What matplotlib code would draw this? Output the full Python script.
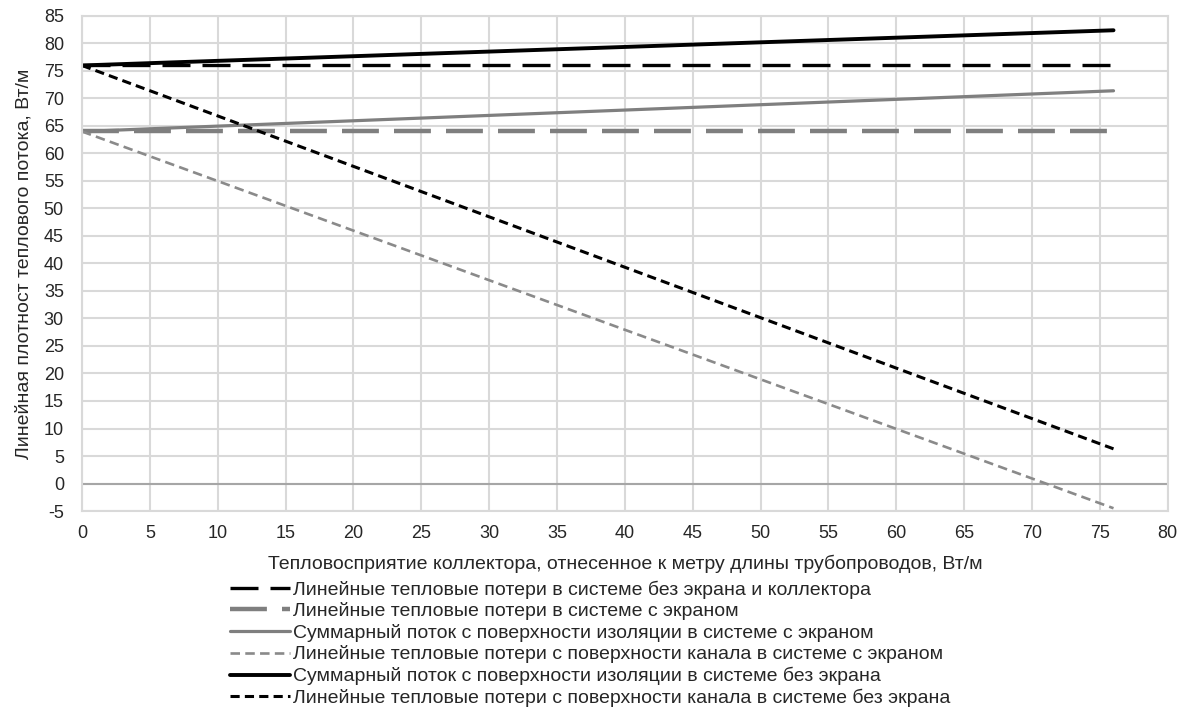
import matplotlib
matplotlib.use("Agg")
import matplotlib.pyplot as plt
import matplotlib.ticker as ticker

plt.rcParams["font.family"] = ["Liberation Sans", "DejaVu Sans"]
plt.rcParams["axes.unicode_minus"] = False

X = [0, 76]
LOSS_NO_SCREEN = [76, 76]
LOSS_SCREEN = [64, 64]
SUM_SCREEN = [64, 71.4]
CHANNEL_SCREEN = [64, -4.5]
SUM_NO_SCREEN = [76, 82.4]
CHANNEL_NO_SCREEN = [76, 6.3]

LABELS = [
    "Линейные тепловые потери в системе без экрана и коллектора",
    "Линейные тепловые потери в системе с экраном",
    "Суммарный поток с поверхности изоляции в системе с экраном",
    "Линейные тепловые потери с поверхности канала в системе с экраном",
    "Суммарный поток с поверхности изоляции в системе без экрана",
    "Линейные тепловые потери с поверхности канала в системе без экрана",
]

GRID = "#d9d9d9"
GRAY = "#7f7f7f"
TEXT = "#262626"

fig = plt.figure(figsize=(11.88, 7.13), dpi=100)
ax = fig.add_axes([0.069, 0.2833, 0.914, 0.6943])

# (values, colour, width, style)
series = [
    (LOSS_NO_SCREEN, "black", 2.4, (0, (8.4, 3.6))),
    (LOSS_SCREEN, GRAY, 3.2, (0, (8.3, 3.4))),
    (SUM_SCREEN, GRAY, 2.3, "-"),
    (CHANNEL_SCREEN, "#8a8a8a", 1.9, (0, (3.6, 2.0))),
    (SUM_NO_SCREEN, "black", 2.8, "-"),
    (CHANNEL_NO_SCREEN, "black", 2.2, (0, (3.0, 1.7))),
]
for (ys, color, lw, ls), label in zip(series, LABELS):
    ax.plot(X, ys, color=color, linewidth=lw, linestyle=ls, label=label,
            solid_capstyle="round")

ax.set_xlim(0, 80)
ax.set_ylim(-5, 85)
ax.xaxis.set_major_locator(ticker.MultipleLocator(5))
ax.yaxis.set_major_locator(ticker.MultipleLocator(5))
ax.grid(True, color=GRID, linewidth=1.5)
ax.axhline(0, color="#a6a6a6", linewidth=1.5, zorder=1)
ax.set_axisbelow(True)
for sp in ax.spines.values():
    sp.set_color(GRID)
    sp.set_linewidth(1.5)
ax.tick_params(length=0, labelsize=13, colors=TEXT)
ax.tick_params(axis="y", pad=13)
ax.tick_params(axis="x", pad=10)

ax.set_xlabel("Тепловосприятие коллектора, отнесенное к метру длины трубопроводов, Вт/м",
              fontsize=14, labelpad=9, color=TEXT)
ax.set_ylabel("Линейная плотност теплового потока, Вт/м", fontsize=14,
              labelpad=8, color=TEXT)

leg = fig.legend(loc="upper left", bbox_to_anchor=(0.1873, 0.197), frameon=False,
                 handlelength=3.05, handletextpad=0.15,
                 labelspacing=0.185, borderaxespad=0,
                 prop={"size": 14})
for t in leg.get_texts():
    t.set_color(TEXT)

fig.savefig("out.png", dpi=100)
